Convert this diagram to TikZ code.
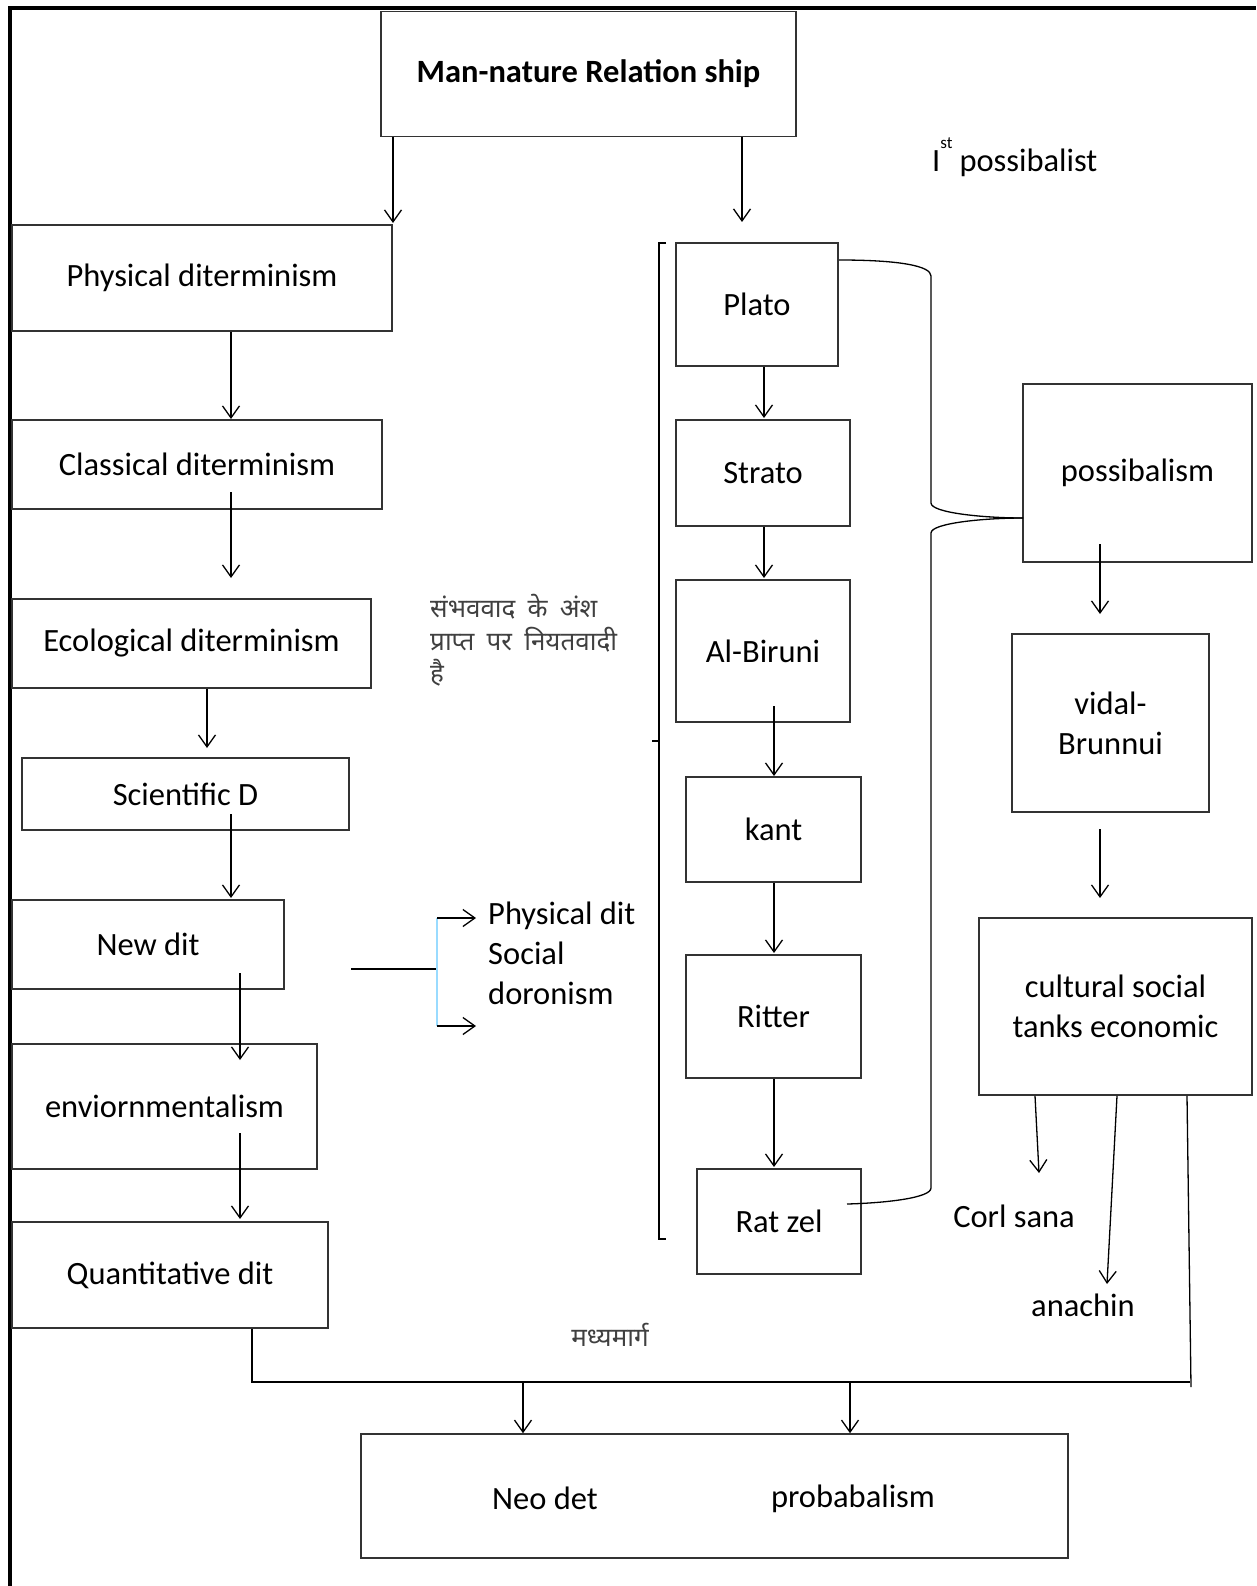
\documentclass[tikz,border=0pt]{standalone}
\usepackage{fontspec}
\setmainfont{Carlito}
\newfontfamily\hindi[Script=Devanagari,WordSpace=1.8]{Noto Sans}
\usetikzlibrary{arrows.meta}
\begin{document}
\begin{tikzpicture}[x=1pt,y=-1pt,
  box/.style={draw=black!80, line width=1.6pt, rectangle, inner sep=0pt, align=center,
    font=\fontsize{32.5}{40}\selectfont},
  lbl/.style={inner sep=0pt, align=left, font=\fontsize{32.5}{40}\selectfont},
  hlbl/.style={inner sep=0pt, align=left, text=black!75, font=\hindi\fontsize{26}{32.5}\selectfont},
  arr/.style={draw=black, line width=1.3pt, -{Straight Barb[length=12pt,width=17pt,line width=1.3pt]}},
  ln/.style={draw=black, line width=1.3pt},
]
\useasboundingbox (0,0) rectangle (1256,1586);
% outer frame
\draw[line width=4pt] (10,1586) -- (10,8.5) -- (1256,8.5);

% top box
\node[box, minimum width=415pt, minimum height=125pt, font=\bfseries\fontsize{32.5}{40}\selectfont] (man) at (588.5,74) {Man-nature Relation ship};

% left column
\node[box, minimum width=380pt, minimum height=106pt] (phys) at (202,278) {Physical diterminism};
\node[box, minimum width=370pt, minimum height=89pt] (class) at (197,464.5) {Classical diterminism};
\node[box, minimum width=359pt, minimum height=89pt] (eco) at (191.5,643.5) {Ecological diterminism};
\node[box, minimum width=327pt, minimum height=72pt] (sci) at (185.5,794) {Scientific D};
\node[box, minimum width=272pt, minimum height=89pt] (new) at (148,944.5) {New dit};
\node[box, minimum width=305pt, minimum height=125pt] (env) at (164.5,1106.5) {enviornmentalism};
\node[box, minimum width=316pt, minimum height=106pt] (quant) at (170,1275) {Quantitative dit};

% middle column
\node[box, minimum width=162pt, minimum height=123pt] (plato) at (757,304.5) {Plato};
\node[box, minimum width=174pt, minimum height=106pt] (strato) at (763,473) {Strato};
\node[box, minimum width=174pt, minimum height=142pt] (albiruni) at (763,651) {Al-Biruni};
\node[box, minimum width=175pt, minimum height=105pt] (kant) at (773.5,829.5) {kant};
\node[box, minimum width=175pt, minimum height=123pt] (ritter) at (773.5,1016.5) {Ritter};
\node[box, minimum width=164pt, minimum height=105pt] (ratzel) at (779,1221.5) {Rat zel};

% right column
\node[box, minimum width=229pt, minimum height=178pt] (poss) at (1137.5,473) {possibalism};
\node[box, minimum width=197pt, minimum height=178pt] (vidal) at (1110.5,723) {vidal-\\Brunnui};
\node[box, minimum width=273pt, minimum height=177pt] (cult) at (1115.5,1006.5) {cultural social\\tanks economic};

% bottom box
\node[box, minimum width=707pt, minimum height=124pt] (bottom) at (714.5,1496) {};
\node[lbl] (neo) at (545,1498) {Neo det};
\node[lbl] (prob) at (853,1499) {probabalism};

% free labels
\node[lbl, anchor=base west] (ist) at (932,172) {I\raisebox{23pt}{\fontsize{17}{17}\selectfont st}\hspace{7pt}possibalist};
\node[hlbl, anchor=north west] (hin) at (430,594) {संभववाद के अंश\\प्राप्त पर नियतवादी\\है};
\node[lbl, anchor=north west] (pdit) at (488,902) {Physical dit\\Social\\doronism};
\node[lbl] (corl) at (1014,1216) {Corl sana};
\node[lbl] (anach) at (1083,1305) {anachin};
\node[hlbl] (madhya) at (610,1335) {मध्यमार्ग};

% arrows from top box
\draw[arr] (man.south -| 393,0) -- (393,223);
\draw[arr] (man.south -| 742,0) -- (742,222);

% left column arrows
\draw[arr] (phys.south -| 231,0) -- (231,419);
\draw[arr] (231,492) -- (231,578);
\draw[arr] (eco.south -| 207,0) -- (207,748);
\draw[arr] (231,814) -- (231,898);
\draw[arr] (240,973) -- (240,1060);
\draw[arr] (240,1133) -- (240,1219);

% New dit branch
\coordinate (br) at (437,969);
\draw[ln] (351,969) -- (br);
\draw[line width=1.3pt, draw=blue!35!cyan!40] (437,918) -- (437,1026);
\draw[arr] (437,918) -- (476,918);
\draw[arr] (437,1026) -- (476,1026);

% middle column arrows
\draw[arr] (plato.south -| 764,0) -- (764,418);
\draw[arr] (strato.south -| 764,0) -- (764,578);
\draw[arr] (774,706) -- (774,776);
\draw[arr] (kant.south -| 774,0) -- (774,953);
\draw[arr] (ritter.south -| 774,0) -- (774,1167);

% bracket left of middle column
\draw[ln] (666,243) -- (659,243) -- (659,1239) -- (666,1239);
\draw[ln] (652,741) -- (659,741);

% brace linking Plato - Rat zel to possibalism
\coordinate (tip) at (1023,518);
\draw[ln] (839,260) .. controls (900,260) and (931,266) .. (931,276)
  -- (931,503) .. controls (931,513) and (985,518) .. (tip);
\draw[ln] (tip) .. controls (985,518) and (931,523) .. (931,533)
  -- (931,1188) .. controls (931,1198) and (885,1203) .. (847,1204);

% right column arrows
\draw[arr] (1100,544) -- (1100,614);
\draw[arr] (1100,829) -- (1100,898);
\draw[arr] (cult.south -| 1035,0) -- (1039,1173);
\draw[arr] (cult.south -| 1117,0) -- (1107,1284);

% bottom joining lines
\draw[ln] (cult.south -| 1187,0) -- (1191,1387);
\draw[ln] (quant.south -| 252,0) -- (252,1382) -- (1190,1382);
\draw[arr] (523,1382) -- (bottom.north -| 523,0);
\draw[arr] (850,1382) -- (bottom.north -| 850,0);
\end{tikzpicture}
\end{document}
